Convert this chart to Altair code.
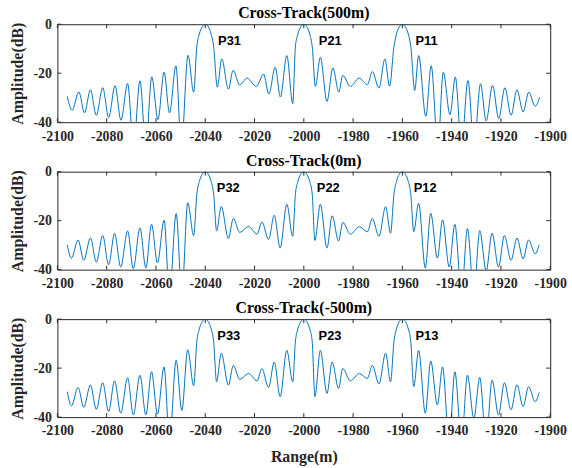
import altair as alt
import pandas as pd

# ---- data (extrema of each response, x in m, y in dB) ----
P1_X = [-2096.0, -2094.0, -2091.3, -2089.0, -2086.6, -2084.2, -2081.6, -2079.2, -2076.6, -2074.2,
        -2071.5, -2069.1, -2066.5, -2064.1, -2061.7, -2059.2, -2056.7, -2054.5, -2051.9, -2049.7,
        -2047.0, -2044.7, -2043.4, -2042.4, -2041.2, -2040.0, -2038.8, -2037.6, -2036.6, -2035.1,
        -2033.3, -2030.6, -2028.7, -2026.0, -2023.0, -2019.3, -2016.3, -2014.2, -2011.6, -2009.5,
        -2006.9, -2004.5, -2003.4, -2002.4, -2001.2, -2000.0, -1998.8, -1997.6, -1996.6, -1995.3,
        -1993.3, -1990.6, -1988.2, -1985.8, -1984.2, -1981.1, -1977.5, -1974.2, -1972.2, -1969.5,
        -1967.1, -1965.2, -1963.4, -1962.4, -1961.2, -1960.0, -1958.8, -1957.6, -1956.6, -1955.0,
        -1953.4, -1950.5, -1948.3, -1945.6, -1943.4, -1940.7, -1938.5, -1936.0, -1933.4, -1930.9,
        -1928.3, -1926.0, -1923.4, -1920.9, -1918.4, -1915.9, -1913.5, -1911.0, -1908.7, -1906.1,
        -1904.3]
P1_Y = [-29.5, -35.1, -27.6, -36.2, -26.8, -37.2, -25.9, -38.1, -25.1, -39.2,
        -24.2, -50.0, -23.1, -50.0, -21.5, -38.9, -19.6, -36.2, -17.0, -50.0,
        -12.7, -27.7, -9.0, -4.0, -1.0, 0.0, -1.0, -4.0, -9.0, -25.7,
        -14.2, -26.5, -18.8, -24.8, -22.0, -25.4, -20.4, -28.5, -17.6, -29.7,
        -12.8, -32.4, -9.0, -4.0, -1.0, 0.0, -1.0, -4.0, -9.0, -25.4,
        -13.5, -31.5, -17.8, -27.7, -20.9, -25.4, -22.0, -24.7, -19.3, -26.1,
        -14.2, -25.3, -9.0, -4.0, -1.0, 0.0, -1.0, -4.0, -9.0, -27.0,
        -12.8, -37.6, -17.0, -50.0, -19.6, -36.9, -21.6, -50.0, -23.0, -50.0,
        -24.3, -39.5, -25.0, -38.5, -25.9, -37.2, -26.8, -35.8, -27.7, -33.5,
        -29.7]

P2_X = [-2096.0, -2094.3, -2091.6, -2089.3, -2086.6, -2084.2, -2081.6, -2079.2, -2076.8, -2074.3,
        -2071.5, -2069.2, -2066.5, -2064.1, -2061.8, -2059.4, -2056.7, -2054.5, -2051.8, -2049.5,
        -2047.1, -2044.7, -2043.4, -2042.4, -2041.2, -2040.0, -2038.8, -2037.6, -2036.6, -2035.4,
        -2033.5, -2030.6, -2028.6, -2026.0, -2022.4, -2019.0, -2017.0, -2014.3, -2012.0, -2009.6,
        -2006.9, -2004.5, -2003.4, -2002.4, -2001.2, -2000.0, -1998.8, -1997.6, -1996.6, -1995.5,
        -1993.3, -1990.6, -1988.5, -1985.9, -1984.2, -1981.1, -1977.5, -1974.2, -1972.2, -1969.5,
        -1966.8, -1964.8, -1963.4, -1962.4, -1961.2, -1960.0, -1958.8, -1957.6, -1956.6, -1955.4,
        -1953.4, -1950.7, -1948.5, -1945.8, -1943.7, -1941.0, -1938.7, -1936.0, -1933.6, -1931.0,
        -1928.6, -1926.0, -1923.6, -1921.0, -1918.6, -1915.9, -1913.5, -1911.0, -1908.8, -1906.1,
        -1904.5]
P2_Y = [-29.9, -35.3, -27.9, -36.2, -27.1, -36.9, -26.1, -38.0, -25.3, -38.9,
        -24.2, -39.6, -23.0, -39.3, -21.5, -37.2, -19.8, -50.0, -17.1, -50.0,
        -12.7, -26.1, -9.0, -4.0, -1.0, 0.0, -1.0, -4.0, -9.0, -24.1,
        -14.3, -27.2, -19.1, -24.8, -22.4, -25.5, -20.5, -27.7, -17.8, -31.2,
        -13.3, -26.4, -9.0, -4.0, -1.0, 0.0, -1.0, -4.0, -9.0, -28.1,
        -13.3, -31.2, -18.0, -28.3, -20.7, -25.5, -22.5, -24.5, -19.1, -26.4,
        -14.3, -25.1, -9.0, -4.0, -1.0, 0.0, -1.0, -4.0, -9.0, -24.5,
        -12.9, -39.3, -17.0, -35.3, -19.7, -38.9, -21.5, -50.0, -23.2, -50.0,
        -24.1, -40.5, -25.1, -38.9, -26.1, -36.2, -27.1, -35.6, -27.9, -33.5,
        -29.9]

P3_X = [-2096.0, -2094.3, -2091.6, -2089.3, -2086.6, -2084.2, -2081.6, -2079.2, -2076.8, -2074.3,
        -2071.5, -2069.2, -2066.5, -2064.1, -2061.8, -2059.4, -2056.7, -2054.5, -2051.8, -2049.5,
        -2047.1, -2044.7, -2043.4, -2042.4, -2041.2, -2040.0, -2038.8, -2037.6, -2036.6, -2035.4,
        -2033.5, -2030.6, -2028.6, -2026.0, -2022.4, -2019.0, -2017.0, -2014.3, -2012.0, -2009.6,
        -2006.9, -2004.5, -2003.4, -2002.4, -2001.2, -2000.0, -1998.8, -1997.6, -1996.6, -1995.5,
        -1993.3, -1990.6, -1988.5, -1985.9, -1984.2, -1981.1, -1977.5, -1974.2, -1972.2, -1969.5,
        -1966.8, -1964.8, -1963.4, -1962.4, -1961.2, -1960.0, -1958.8, -1957.6, -1956.6, -1955.4,
        -1953.4, -1950.7, -1948.5, -1945.8, -1943.7, -1941.0, -1938.7, -1936.0, -1933.6, -1931.0,
        -1928.6, -1926.0, -1923.6, -1921.0, -1918.6, -1915.9, -1913.5, -1911.0, -1908.8, -1906.1,
        -1904.5]
P3_Y = [-29.6, -35.4, -27.9, -36.0, -26.9, -36.8, -26.0, -37.7, -25.2, -38.4,
        -24.0, -39.1, -22.9, -39.1, -21.5, -38.7, -19.5, -50.0, -16.8, -37.3,
        -12.5, -27.2, -9.0, -4.0, -1.0, 0.0, -1.0, -4.0, -9.0, -25.6,
        -13.9, -26.9, -18.9, -24.6, -22.2, -25.2, -20.2, -27.9, -17.5, -31.6,
        -12.8, -25.6, -9.0, -4.0, -1.0, 0.0, -1.0, -4.0, -9.0, -31.6,
        -12.8, -30.3, -17.5, -28.3, -20.2, -25.2, -22.2, -24.2, -18.9, -26.5,
        -13.9, -25.6, -9.0, -4.0, -1.0, 0.0, -1.0, -4.0, -9.0, -27.6,
        -12.8, -38.4, -17.1, -35.0, -19.5, -50.0, -21.5, -50.0, -22.9, -40.5,
        -23.8, -50.0, -24.9, -39.1, -26.0, -37.0, -26.8, -35.7, -27.6, -33.7,
        -30.0]

TITLES = ["Cross-Track(500m)", "Cross-Track(0m)", "Cross-Track(-500m)"]
LABELS = [["P31", "P21", "P11"], ["P32", "P22", "P12"], ["P33", "P23", "P13"]]
LABEL_X = [[-2034.8, -1993.9, -1954.7], [-2035.3, -1994.7, -1955.4], [-2035.1, -1994.0, -1954.7]]
LABEL_Y = [-7.0, -6.5, -6.8]

XTICKS = [-2100, -2080, -2060, -2040, -2020, -2000, -1980, -1960, -1940, -1920, -1900]
YTICKS = [-40, -20, 0]

W, H = 498, 99
BLUE = "#0072BD"
AX = "#262626"
SERIF = "Liberation Serif"
SANS = "Liberation Sans"

xscale = alt.Scale(domain=[-2100, -1900], nice=False, zero=False)
yscale = alt.Scale(domain=[-40, 0], nice=False, zero=False)


def panel(xs, ys, idx, last):
    df = pd.DataFrame({"x": xs, "y": ys})
    xaxis = alt.Axis(values=XTICKS, tickSize=0, domain=False, grid=False,
                     labelFont=SERIF, labelFontSize=14, labelFontWeight="bold",
                     labelColor=AX, labelPadding=7, labelOverlap=False, labelFlush=False,
                     labelExpr="'' + datum.value",
                     titleFont=SERIF, titleFontSize=16, titleFontWeight="bold",
                     titleColor=AX, titlePadding=11)
    yaxis = alt.Axis(values=YTICKS, tickSize=0, domain=False, grid=False,
                     labelFont=SERIF, labelFontSize=14, labelFontWeight="bold",
                     labelColor=AX, labelPadding=6, labelOverlap=False, labelFlush=False,
                     labelExpr="'' + datum.value",
                     titleFont=SERIF, titleFontSize=16, titleFontWeight="bold",
                     titleColor=AX, titlePadding=8)
    xtitle = "Range(m)" if last else ""
    X = alt.X("x:Q", scale=xscale, axis=xaxis, title=xtitle)
    Y = alt.Y("y:Q", scale=yscale, axis=yaxis, title="Amplitude(dB)")

    line = alt.Chart(df).mark_line(color=BLUE, strokeWidth=1, interpolate="monotone",
                                   clip=True).encode(x=X, y=Y)
    xt = pd.DataFrame({"x": XTICKS})
    yt = pd.DataFrame({"y": YTICKS})
    tb = alt.Chart(xt).mark_rule(color=AX, strokeWidth=1).encode(
        x=X, y=alt.value(H), y2=alt.value(H - 4))
    tt = alt.Chart(xt).mark_rule(color=AX, strokeWidth=1).encode(
        x=X, y=alt.value(0), y2=alt.value(4))
    tl = alt.Chart(yt).mark_rule(color=AX, strokeWidth=1).encode(
        y=Y, x=alt.value(0), x2=alt.value(4))
    tr = alt.Chart(yt).mark_rule(color=AX, strokeWidth=1).encode(
        y=Y, x=alt.value(W), x2=alt.value(W - 4))
    lab = pd.DataFrame({"x": LABEL_X[idx], "y": [LABEL_Y[idx]] * 3, "t": LABELS[idx]})
    txt = alt.Chart(lab).mark_text(font=SANS, fontSize=13, fontWeight="bold", color="#000000",
                                   align="left", baseline="middle").encode(
        x=X, y=Y, text="t:N")
    return alt.layer(line, tb, tt, tl, tr, txt).properties(
        width=W, height=H,
        title=alt.TitleParams(TITLES[idx], font=SERIF, fontSize=16, fontWeight="bold",
                              color="#000000", offset=-4),
    )


chart = alt.vconcat(
    panel(P1_X, P1_Y, 0, False),
    panel(P2_X, P2_Y, 1, False),
    panel(P3_X, P3_Y, 2, True),
    spacing=50, bounds="flush",
).properties(
    padding={"left": 8, "top": 2, "right": 5, "bottom": 5},
).configure_view(stroke=AX, strokeWidth=1)

chart.save("out.html", embed_options={"renderer": "svg", "actions": False})
